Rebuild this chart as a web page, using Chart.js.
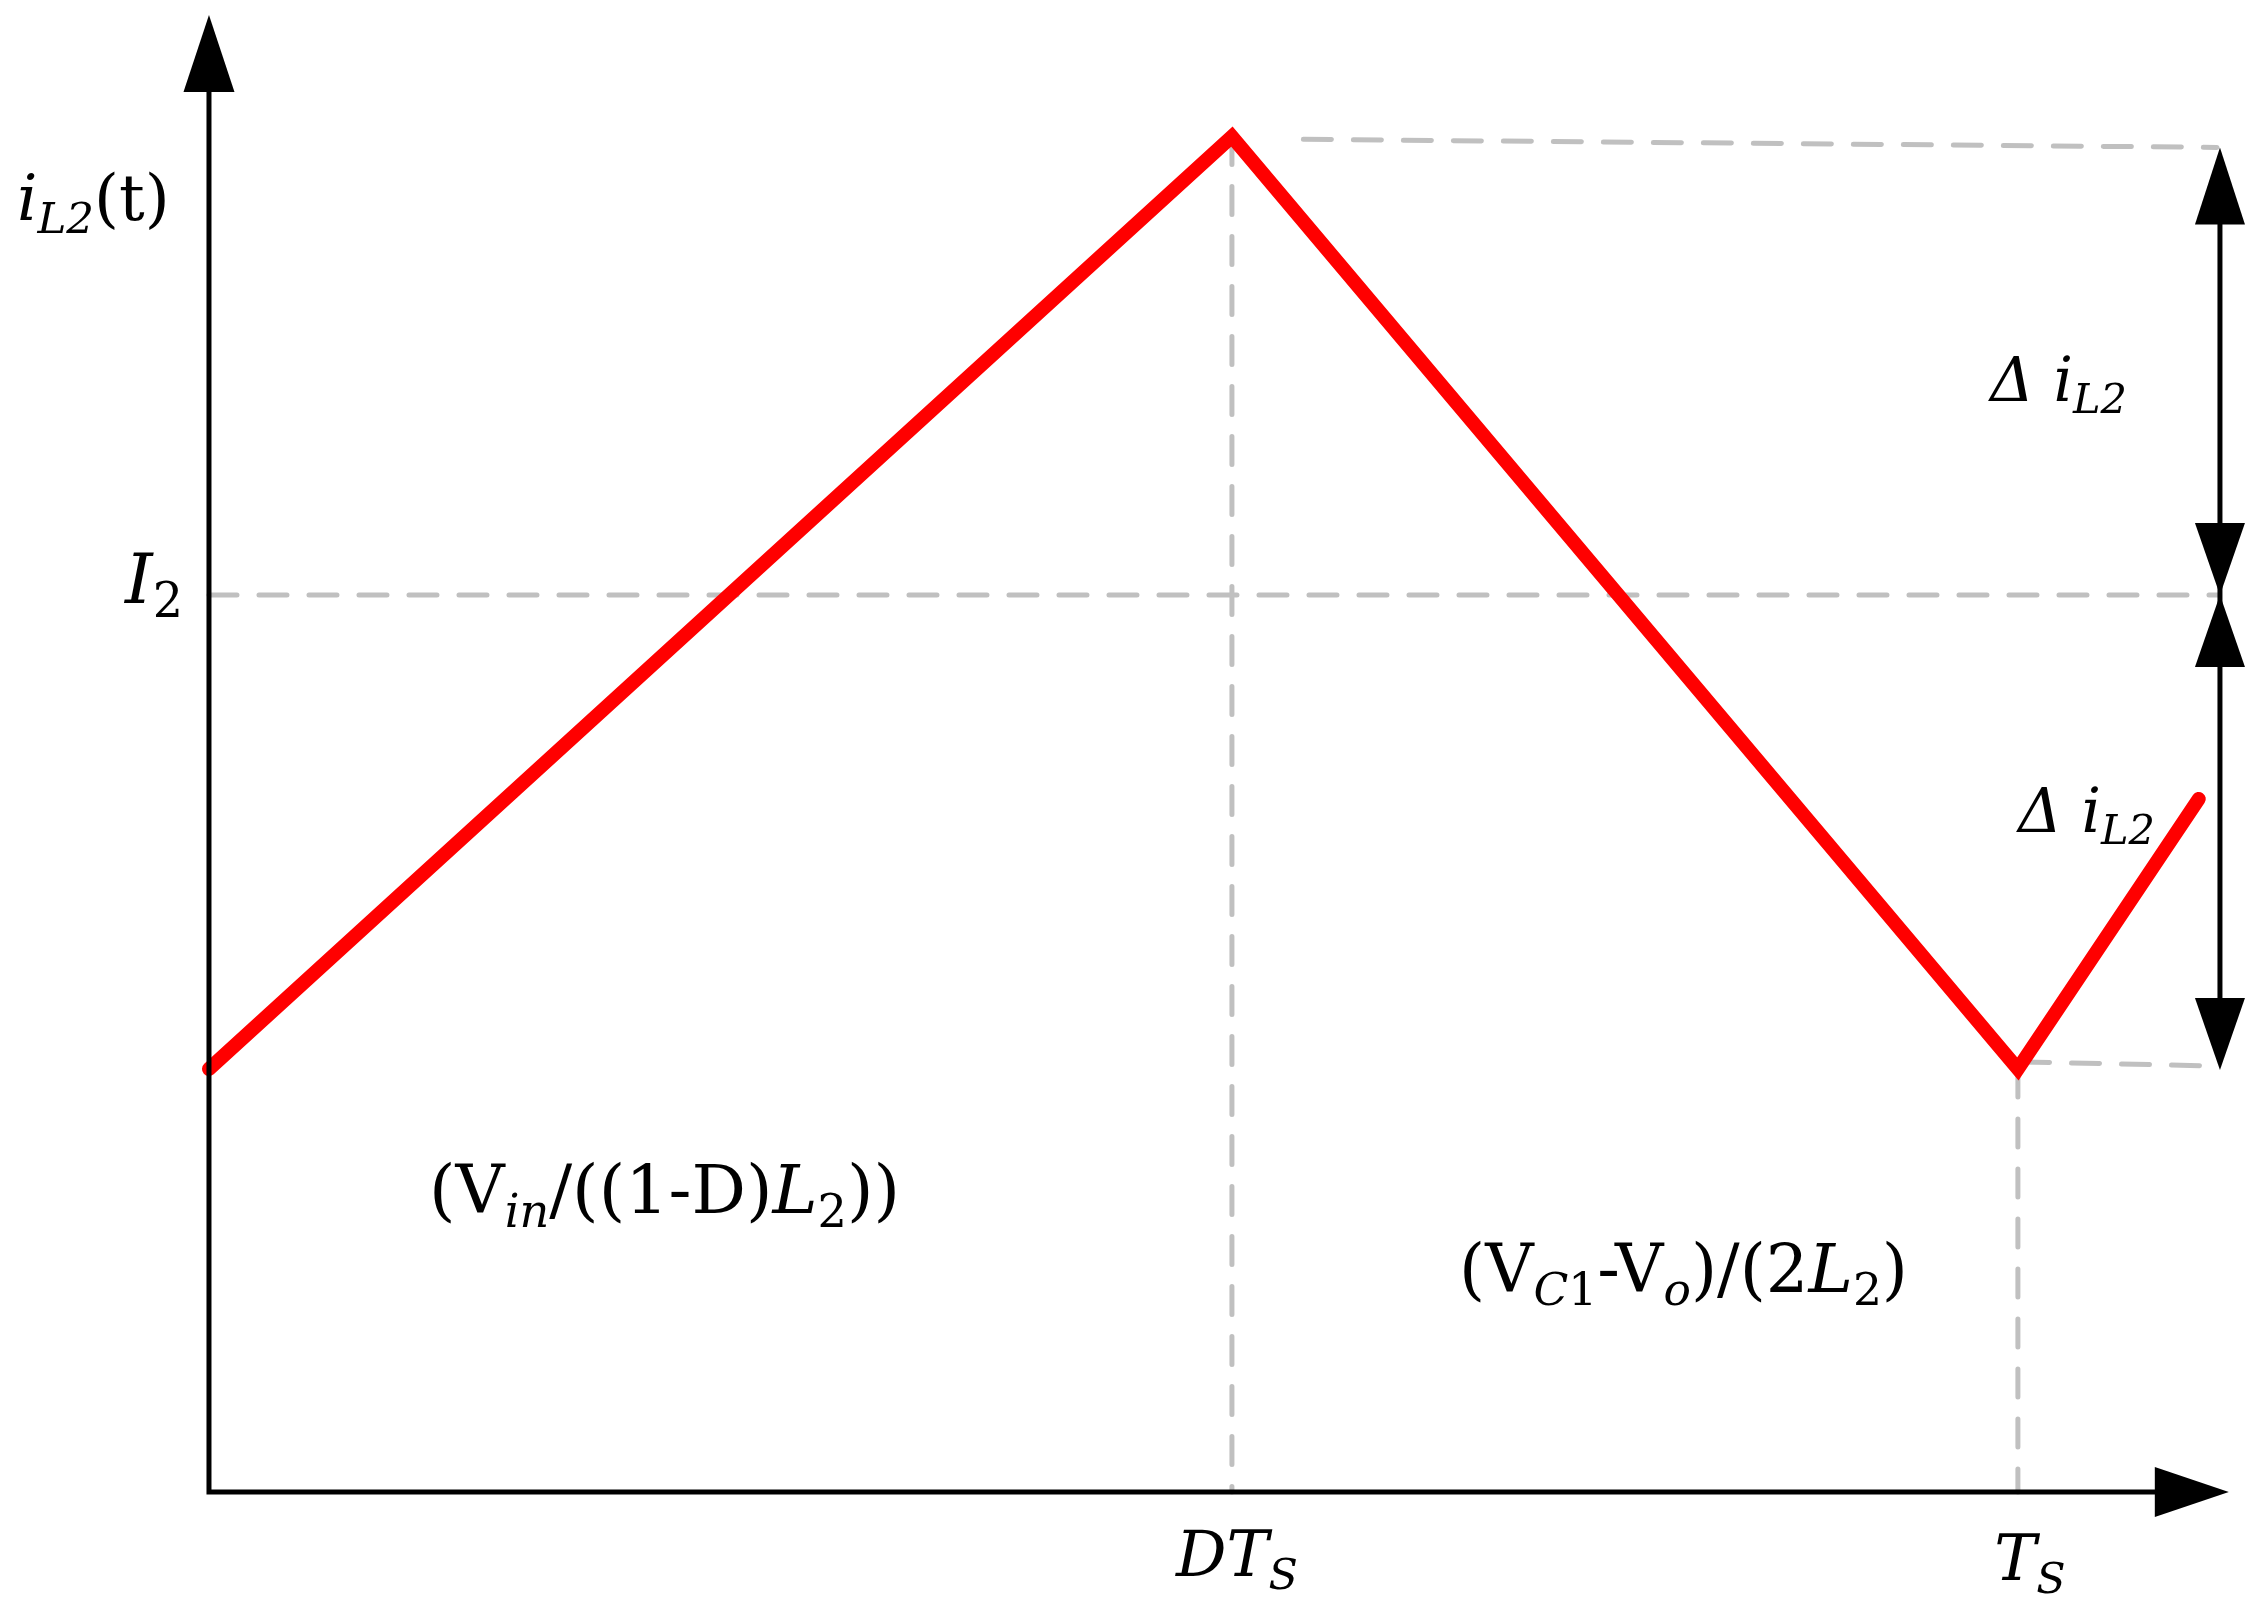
<!DOCTYPE html>
<html lang="en">
<head>
<meta charset="UTF-8" />
<title>iL2(t) waveform</title>
<script src="https://cdn.jsdelivr.net/npm/chart.js"></script>
<style>
    html, body { margin: 0; padding: 0; background: #fff; }
    #wrap { width: 2265px; height: 1611px; }
</style>
</head>
<body>
<div id="wrap"><canvas id="waveChart"></canvas></div>
<script>
// time in units of Ts, current in units of I2
const waveTime = [0, 0.5655, 1.0, 1.100];
const waveCurrent = [0.4716, 1.511, 0.4716, 0.7726];
const dutyTime = 0.5655;   // D*Ts
const periodTime = 1.0;    // Ts
const avgCurrent = 1.0;    // I2
const peakGuideTime = [0.605, 1.110];
const peakGuideCurrent = [1.508, 1.499];
const valleyGuideTime = [1.002, 1.110];
const valleyGuideCurrent = [0.4795, 0.4749];
const rippleTime = 1.1117;
const rippleCurrent = [1.499, 1.0, 0.4705];
const axisEndTime = 1.1166;
const axisEndCurrent = 1.6466;

const toPoints = (xs, ys) => xs.map((v, k) => ({ x: v, y: ys[k] }));

const dashStyle = {
    borderColor: '#c0c0c0',
    borderWidth: 5,
    borderDash: [28, 22],
    borderCapStyle: 'round',
    pointRadius: 0,
    showLine: true,
    order: 2
};

const FONT = '"DejaVu Serif", serif';

// draws text made of pieces [text, italic, subscript]
function drawRich(ctx, parts, x, baseline, size, align) {
    const pieces = parts.map(([text, italic, sub]) => {
        const fs = sub ? size * 0.68 : size;
        const font = (italic ? 'italic ' : '') + fs + 'px ' + FONT;
        ctx.font = font;
        return { text, font, w: ctx.measureText(text).width, dy: sub ? size * 0.2 : 0 };
    });
    const total = pieces.reduce((s, p) => s + p.w, 0);
    let cx = align === 'center' ? x - total / 2 : align === 'right' ? x - total : x;
    ctx.textAlign = 'left';
    ctx.textBaseline = 'alphabetic';
    pieces.forEach(p => {
        ctx.font = p.font;
        ctx.fillText(p.text, cx, baseline + p.dy);
        cx += p.w;
    });
}

function arrowHead(ctx, tipX, tipY, dirX, dirY, len, width) {
    const bx = tipX - dirX * len, by = tipY - dirY * len;
    const nx = -dirY * width / 2, ny = dirX * width / 2;
    ctx.beginPath();
    ctx.moveTo(tipX, tipY);
    ctx.lineTo(bx + nx, by + ny);
    ctx.lineTo(bx - nx, by - ny);
    ctx.closePath();
    ctx.fill();
}

const diagramPlugin = {
    id: 'diagram',
    afterDatasetsDraw(chart) {
        const { ctx, scales: { x, y } } = chart;
        const px = v => x.getPixelForValue(v);
        const py = v => y.getPixelForValue(v);
        ctx.save();
        ctx.strokeStyle = '#000';
        ctx.fillStyle = '#000';

        // axes
        ctx.lineWidth = 5;
        ctx.lineCap = 'butt';
        ctx.beginPath();
        ctx.moveTo(px(0), py(axisEndCurrent) + 60);
        ctx.lineTo(px(0), py(0));
        ctx.lineTo(px(axisEndTime) - 60, py(0));
        ctx.stroke();
        arrowHead(ctx, px(0), py(axisEndCurrent), 0, -1, 77, 51);
        arrowHead(ctx, px(axisEndTime), py(0), 1, 0, 74, 50);

        // ripple arrows
        const rx = px(rippleTime);
        ctx.lineWidth = 5;
        ctx.beginPath();
        ctx.moveTo(rx, py(rippleCurrent[0]) + 60);
        ctx.lineTo(rx, py(rippleCurrent[2]) - 60);
        ctx.stroke();
        arrowHead(ctx, rx, py(rippleCurrent[0]), 0, -1, 77, 50);
        arrowHead(ctx, rx, py(rippleCurrent[1]), 0, 1, 72, 50);
        arrowHead(ctx, rx, py(rippleCurrent[1]), 0, -1, 72, 50);
        arrowHead(ctx, rx, py(rippleCurrent[2]), 0, 1, 72, 50);

        // labels
        drawRich(ctx, [['i', true], ['L2', true, true], ['(t)', false]], px(0) - 192, 220, 64, 'left');
        drawRich(ctx, [['I', true], ['2', false, true]], px(0) - 26, py(avgCurrent) + 8, 70, 'right');
        drawRich(ctx, [['Δ i', true], ['L2', true, true]], 1990, 401, 61, 'left');
        drawRich(ctx, [['Δ i', true], ['L2', true, true]], 2018, 832, 61, 'left');
        drawRich(ctx, [['(V', false], ['in', true, true], ['/((1-D)', false], ['L', true], ['2', false, true], ['))', false]],
            429, 1213, 68, 'left');
        drawRich(ctx, [['(V', false], ['C', true, true], ['1', false, true], ['-V', false], ['o', true, true],
            [')/(2', false], ['L', true], ['2', false, true], [')', false]], 1459, 1292, 67, 'left');
        drawRich(ctx, [['DT', true], ['S', true, true]], px(dutyTime) + 5, 1576, 63, 'center');
        drawRich(ctx, [['T', true], ['S', true, true]], px(periodTime) + 12, 1580, 63, 'center');
        ctx.restore();
    }
};

new Chart(document.getElementById('waveChart'), {
    type: 'scatter',
    data: {
        datasets: [
            {
                label: 'iL2(t)',
                data: toPoints(waveTime, waveCurrent),
                showLine: true,
                borderColor: '#ff0000',
                borderWidth: 14,
                borderCapStyle: 'round',
                borderJoinStyle: 'miter',
                pointRadius: 0,
                order: 1
            },
            Object.assign({ data: toPoints([0, axisEndTime - 0.006], [avgCurrent, avgCurrent]) }, dashStyle),
            Object.assign({ data: toPoints([dutyTime, dutyTime], [waveCurrent[1], 0]) }, dashStyle),
            Object.assign({ data: toPoints([periodTime, periodTime], [waveCurrent[2], 0]) }, dashStyle),
            Object.assign({ data: toPoints(peakGuideTime, peakGuideCurrent) }, dashStyle),
            Object.assign({ data: toPoints(valleyGuideTime, valleyGuideCurrent) }, dashStyle)
        ]
    },
    options: {
        responsive: true,
        maintainAspectRatio: false,
        animation: false,
        events: [],
        layout: { padding: 0 },
        plugins: { legend: { display: false }, tooltip: { enabled: false } },
        scales: {
            x: { type: 'linear', display: false, min: -0.11553, max: 1.1366 },
            y: { type: 'linear', display: false, min: -0.13266, max: 1.6633 }
        }
    },
    plugins: [diagramPlugin]
});
</script>
</body>
</html>
